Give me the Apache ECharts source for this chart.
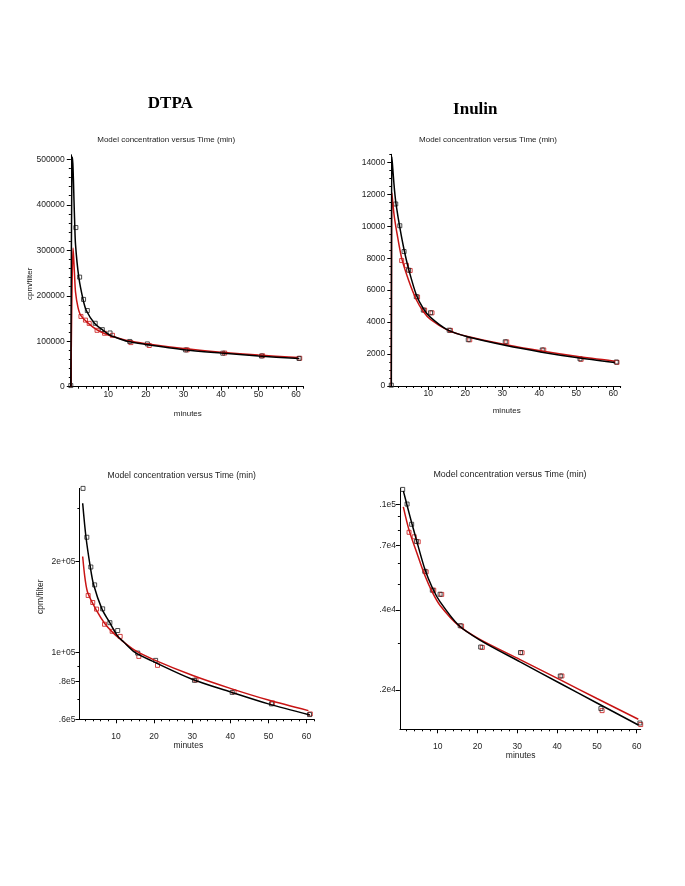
<!DOCTYPE html>
<html><head><meta charset="utf-8">
<script src="https://cdn.jsdelivr.net/npm/echarts@6/dist/echarts.min.js"></script>
<style>html,body{margin:0;padding:0;background:#fff}#c{width:685px;height:886px}</style>
</head><body><div id="c"></div>
<script>
// ---------- data (time in minutes, cpm/filter) ----------
const dtpaBlackCurve = [[0,0],[0.1,200000],[0.25,430000],[0.4,505000],[0.55,490000],[0.7,455000],[0.85,410000],[1.0,370000],[1.26,312500],[2.13,241000],[3.27,191800],[4.14,167600],[6.3,139500],[8.3,126000],[10.5,113000],[11.9,108700],[15,100000],[20,93000],[30,81500],[40,74000],[50,67500],[60.9,62000]];
const dtpaRedCurve = [[0,0],[0.15,100000],[0.35,230000],[0.6,305000],[0.8,278000],[1.0,245000],[1.26,208000],[1.9,175000],[2.65,157000],[5,137000],[7,125000],[9,117000],[11,111000],[15,101500],[20,94500],[30,84000],[40,76000],[50,69500],[60.5,64100]];
const dtpaBlackPts = [[0,2500],[1.35,350000],[2.35,241000],[3.4,192000],[4.4,167500],[6.5,139500],[8.4,125500],[10.45,118200],[15.7,99500],[20.4,94100],[30.6,80800],[40.5,73700],[50.8,67500],[60.8,62200]];
const dtpaRedPts = [[2.7,154500],[3.9,146400],[4.9,139200],[7.0,124000],[9.0,117500],[11.1,113000],[16.0,97000],[20.9,90600],[31.0,81000],[41.0,74000],[51.1,68000],[61.0,62500]];

const inuBlackCurve = [[0,0],[0.05,8000],[0.15,14350],[0.4,13600],[0.7,12700],[1.0,11950],[1.36,11250],[2.36,9845],[3.47,8510],[4.7,7303],[6.8,5680],[8.7,4831],[10.6,4293],[15.2,3510],[20.6,3081],[30.7,2550],[40.7,2118],[50,1784],[60.4,1474]];
const inuRedCurve = [[0,0],[0.05,6000],[0.15,12100],[0.4,11500],[0.7,10800],[1.0,10300],[1.36,9790],[2.8,8000],[4.7,6600],[6.8,5380],[8.7,4650],[10.6,4160],[15.2,3500],[20.6,3100],[30.7,2600],[40.7,2185],[50,1855],[60.4,1550]];
const inuBlackPts = [[0,50],[1.2,11390],[2.3,10030],[3.45,8415],[4.65,7250],[6.75,5595],[8.65,4750],[10.6,4585],[15.65,3490],[20.8,2900],[30.8,2765],[40.8,2255],[51,1700],[60.8,1500]];
const inuRedPts = [[2.8,7850],[4.1,7550],[5.1,7230],[7.1,5570],[9.0,4750],[11.0,4580],[16.0,3480],[21.2,2890],[31.2,2760],[41.2,2256],[51.3,1670],[61.0,1480]];

// ---------- tick labels ----------
const xTickVals = [10,20,30,40,50,60];
const dtpaLinYTicks = [0,100000,200000,300000,400000,500000];
const inuLinYTicks = [0,2000,4000,6000,8000,10000,12000,14000];
const dtpaLogYTicks = [60000,80000,100000,200000];
const dtpaLogYLabels = ['.6e5','.8e5','1e+05','2e+05'];
const inuLogYTicks = [2000,4000,7000,10000];
const inuLogYLabels = ['.2e4','.4e4','.7e4','.1e5'];
const dtpaLogYMinor = [70000,90000,300000];
const inuLogYMinor = [3000,5000,6000,8000,9000];

function range(a,b,s){const r=[];for(let v=a;v<=b+1e-9;v+=s)r.push(+v.toFixed(6));return r;}
const xMinor = range(2,62,2).filter(v=>v%10!==0);
const dtpaLinYMinor = range(20000,500000,20000).filter(v=>v%100000!==0);
const inuLinYMinor = range(500,14500,500).filter(v=>v%2000!==0);

const FONT = '"Liberation Sans", Arial, sans-serif';
const TXT = '#222';

function mkX(grid,min,max,margin){
  return {type:'value',gridIndex:grid,position:'bottom',min:min,max:max,
    axisLine:{show:true,onZero:false,lineStyle:{color:'#000',width:1}},
    axisTick:{show:true,inside:false,length:4,customValues:xTickVals,lineStyle:{color:'#000'}},
    axisLabel:{show:true,customValues:xTickVals,margin:margin,fontSize:8.5,fontFamily:FONT,color:TXT},
    splitLine:{show:false}};
}
function mkXMinor(grid,min,max){
  return {type:'value',gridIndex:grid,position:'bottom',offset:0,min:min,max:max,
    axisLine:{show:false,onZero:false},axisLabel:{show:false},splitLine:{show:false},
    axisTick:{show:true,inside:false,length:2,customValues:xMinor,lineStyle:{color:'#000'}}};
}
function mkY(grid,type,min,max,ticks,labels,margin){
  return {type:type,gridIndex:grid,position:'left',min:min,max:max,
    axisLine:{show:true,onZero:false,lineStyle:{color:'#000',width:1}},
    axisTick:{show:true,inside:false,length:4,customValues:ticks,lineStyle:{color:'#000'}},
    axisLabel:{show:true,customValues:ticks,margin:margin,fontSize:8.5,fontFamily:FONT,color:TXT,
      formatter:function(v){ if(labels){const i=ticks.findIndex(t=>Math.abs(t-v)/t<1e-6); return i>=0?labels[i]:'';} return String(v);} },
    splitLine:{show:false}};
}
function mkYMinor(grid,type,min,max,ticks){
  return {type:type,gridIndex:grid,position:'left',offset:0,min:min,max:max,
    axisLine:{show:false,onZero:false},axisLabel:{show:false},splitLine:{show:false},
    axisTick:{show:true,inside:false,length:2,customValues:ticks,lineStyle:{color:'#000'}}};
}

const BLACK = '#000';
const RED = '#c81414';
function curve(ax,data,color){
  return {type:'line',xAxisIndex:ax,yAxisIndex:ax,data:data,showSymbol:false,smooth:0.3,
    lineStyle:{color:color,width:1.5},silent:true,z:3};
}
function pts(ax,data,color){
  return {type:'scatter',xAxisIndex:ax,yAxisIndex:ax,data:data,symbol:'rect',symbolSize:4,
    itemStyle:{color:'rgba(0,0,0,0)',borderColor:color,borderWidth:1},silent:true,z:2};
}
const pos = p=>p[0]>0&&p[1]>0;
const logCurve = (d,t0)=>d.filter(p=>p[0]>=t0);

function txt(text,x,y,size,opts){
  return Object.assign({type:'text',x:x,y:y,silent:true,style:{text:text,x:0,y:0,fill:opts&&opts.fill||'#222',
    font:(opts&&opts.weight||'normal')+' '+size+'px '+(opts&&opts.family||FONT),align:'center',verticalAlign:'middle'}},
    opts&&opts.rotation?{rotation:opts.rotation}:{});
}

const option = {
  animation:false,
  backgroundColor:'#fff',
  grid:[
    {left:70.8,top:154.8,width:232.7,height:231.9},
    {left:391.3,top:154.3,width:229.4,height:231.7},
    {left:79.4,top:488.4,width:234.7,height:230.9},
    {left:399.9,top:488.3,width:240.8,height:241.0}
  ],
  xAxis:[
    mkX(0,0,62,3), mkX(1,0,62,3), mkX(2,0.4,62,13), mkX(3,0.5,61,13),
    mkXMinor(0,0,62), mkXMinor(1,0,62), mkXMinor(2,0.4,62), mkXMinor(3,0.5,61)
  ],
  yAxis:[
    mkY(0,'value',0,510000,dtpaLinYTicks,null,6),
    mkY(1,'value',0,14500,inuLinYTicks,null,6),
    mkY(2,'log',60000,350000,dtpaLogYTicks,dtpaLogYLabels,4),
    mkY(3,'log',1420,11500,inuLogYTicks,inuLogYLabels,4),
    mkYMinor(0,'value',0,510000,dtpaLinYMinor),
    mkYMinor(1,'value',0,14500,inuLinYMinor),
    mkYMinor(2,'log',60000,350000,dtpaLogYMinor),
    mkYMinor(3,'log',1420,11500,inuLogYMinor)
  ],
  series:[
    pts(0,dtpaRedPts,RED), pts(0,dtpaBlackPts,'#222'),
    curve(0,dtpaRedCurve,RED), curve(0,dtpaBlackCurve,BLACK),
    pts(1,inuRedPts,RED), pts(1,inuBlackPts,'#222'),
    curve(1,inuRedCurve,RED), curve(1,inuBlackCurve,BLACK),
    pts(2,dtpaRedPts.filter(pos),RED), pts(2,dtpaBlackPts.filter(pos),'#222'),
    curve(2,logCurve(dtpaRedCurve,1.2),RED), curve(2,logCurve(dtpaBlackCurve,1.2),BLACK),
    pts(3,inuRedPts.filter(pos),RED), pts(3,inuBlackPts.filter(pos),'#222'),
    curve(3,logCurve(inuRedCurve,1.3),RED), curve(3,logCurve(inuBlackCurve,1.3),BLACK)
  ],
  graphic:[
    txt('DTPA',170.3,104,17,{weight:'bold',family:'"Liberation Serif", "Times New Roman", serif',fill:'#000'}),
    txt('Inulin',475.3,109.5,17,{weight:'bold',family:'"Liberation Serif", "Times New Roman", serif',fill:'#000'}),
    txt('Model concentration versus Time (min)',166.2,140,8),
    txt('Model concentration versus Time (min)',488,140,8),
    txt('Model concentration versus Time (min)',181.7,475.7,8.6),
    txt('Model concentration versus Time (min)',510,475,8.9),
    txt('minutes',187.8,413.3,8),
    txt('minutes',506.7,411,8),
    txt('minutes',188.3,746,8.5),
    txt('minutes',520.7,756,8.5),
    txt('cpm/filter',30,283.8,8,{rotation:Math.PI/2}),
    txt('cpm/filter',40.7,596.7,8.5,{rotation:Math.PI/2})
  ]
};
const chart = echarts.init(document.getElementById('c'));
chart.setOption(option);
</script></body></html>
